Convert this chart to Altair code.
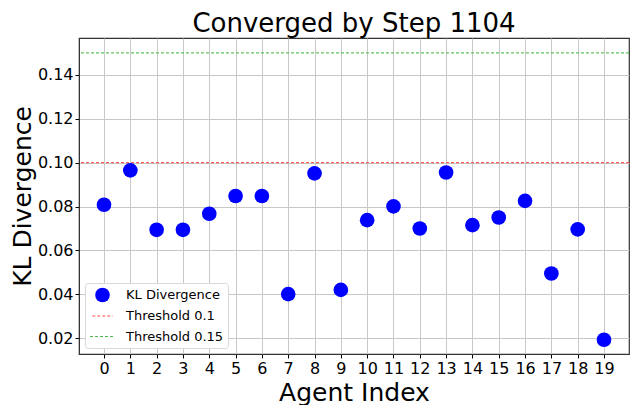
import altair as alt
import pandas as pd

agents = list(range(20))
kl_values = [0.0808, 0.0965, 0.0694, 0.0694, 0.0767, 0.0848, 0.0848, 0.0401, 0.0951, 0.0420,
             0.0738, 0.0801, 0.0700, 0.0955, 0.0715, 0.0750, 0.0826, 0.0495, 0.0696, 0.0193]
thr_values = [0.10, 0.15]
thr_labels = ["Threshold 0.1", "Threshold 0.15"]
series = ["KL Divergence", "Threshold 0.1", "Threshold 0.15"]
colors = ["#0000ff", "#ff4d4d", "#4cbb4c"]
stroke_colors = ["rgba(0,0,0,0)", "#ff4d4d", "#4cbb4c"]
shapes = ["circle", "stroke", "stroke"]
sizes = [215, 625, 625]
y_ticks = [0.02, 0.04, 0.06, 0.08, 0.10, 0.12, 0.14]

pts = pd.DataFrame({"agent": agents, "kl": kl_values, "series": series[0]})
thr = pd.DataFrame({"value": thr_values, "series": thr_labels})

FONT = "DejaVu Sans"

legend = alt.Legend(
    title=None, orient="bottom-left", offset=6,
    labelFont=FONT, labelFontSize=13, labelColor="black",
    fillColor="white", strokeColor="#d8d8d8", cornerRadius=3,
    padding=4, rowPadding=-7, labelOffset=10,
    symbolDash=[3, 2], symbolStrokeWidth=1.2, symbolOpacity=1,
)

fill = alt.Fill("series:N", scale=alt.Scale(domain=series, range=colors), legend=legend)
stroke = alt.Stroke("series:N", scale=alt.Scale(domain=series, range=stroke_colors), legend=legend)
shape = alt.Shape("series:N", scale=alt.Scale(domain=series, range=shapes), legend=legend)
size = alt.Size("series:N", scale=alt.Scale(domain=series, range=sizes), legend=legend)

x = alt.X("agent:Q", title="Agent Index",
          scale=alt.Scale(domain=[-0.95, 19.95], nice=False, zero=False),
          axis=alt.Axis(values=agents, format="d", labelAngle=0, titlePadding=4))
y = alt.Y("kl:Q", title="KL Divergence",
          scale=alt.Scale(domain=[0.0128, 0.1568], nice=False, zero=False),
          axis=alt.Axis(values=y_ticks, format=".2f", titlePadding=2))

points = alt.Chart(pts).mark_point(filled=True, opacity=1, strokeWidth=0).encode(
    x=x, y=y, fill=fill, stroke=stroke, shape=shape, size=size)
rules = alt.Chart(thr).mark_rule(strokeDash=[3, 2], strokeWidth=1.1, opacity=0.9).encode(
    y="value:Q", stroke=stroke)

chart = alt.layer(rules, points).properties(
    width=624, height=397,
    autosize=alt.AutoSizeParams(type="fit", contains="padding"),
    padding={"left": 2, "right": 2, "top": 3, "bottom": 0},
    title=alt.Title("Converged by Step 1104", fontSize=26, font=FONT,
                    fontWeight="normal", color="black", offset=1),
).configure_view(stroke="#333333", strokeWidth=1.2).configure_axis(
    labelFont=FONT, titleFont=FONT, labelFontSize=16, titleFontSize=25,
    titleFontWeight="normal", labelColor="black", titleColor="black",
    tickColor="black", tickSize=4, domainColor="#333333",
    grid=True, gridColor="#c8c8c8", gridWidth=1, labelPadding=2,
)

chart.save("out.html", embed_options={"renderer": "svg", "actions": False})
